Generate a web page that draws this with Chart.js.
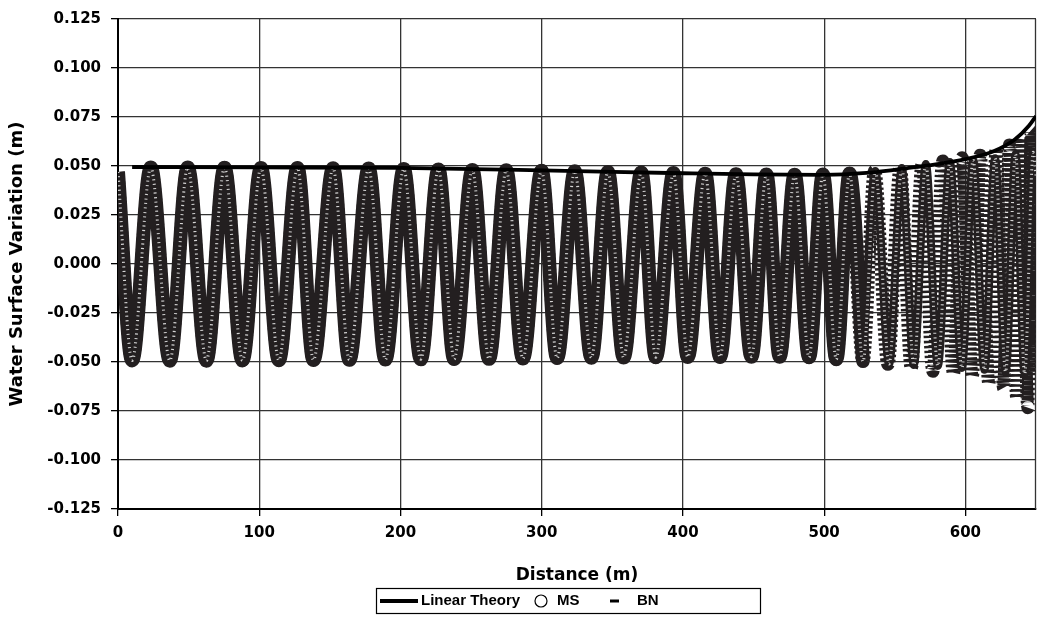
<!DOCTYPE html>
<html>
<head>
<meta charset="utf-8">
<script src="https://cdn.jsdelivr.net/npm/chart.js"></script>
<style>
  html, body { margin: 0; padding: 0; background: #fff; }
</style>
</head>
<body>
<canvas id="waveChart" width="1038" height="640"></canvas>
<script>
// crests / troughs: distance (m) and surface elevation (m)
// both models coincide up to ~527 m
const waveX = [0, 10, 23.2, 36.7, 49.4, 62.6, 75.4, 88.1, 101.2, 113.9, 127.1, 138.4, 152.3, 163.8,
  177.5, 189.3, 202.3, 214.4, 226.9, 238, 250.9, 262.7, 274.9, 286.7, 299.9, 310.9, 323.4, 335.2,
  346.9, 358, 370.5, 380.8, 393.3, 403.4, 415.7, 426.3, 437.6, 448.5, 459.1, 468.5, 479.1, 489.3,
  499.1, 508.6, 518, 527.5];
const waveY = [0.047, -0.0492, 0.0492, -0.0493, 0.0492, -0.0493, 0.0491, -0.0492, 0.049, -0.0491,
  0.049, -0.049, 0.0489, -0.0489, 0.0487, -0.0487, 0.0485, -0.0486, 0.0482, -0.0485, 0.048, -0.0484,
  0.0478, -0.0482, 0.0476, -0.048, 0.0473, -0.0478, 0.047, -0.0477, 0.0467, -0.0476, 0.0464, -0.0475,
  0.0461, -0.0474, 0.0458, -0.0473, 0.0456, -0.0473, 0.0455, -0.0476, 0.0456, -0.0486, 0.0462, -0.0498];

// shoaling part, where the two models separate
const msEndX = [536.2, 546, 555, 563.5, 572, 580.5, 589, 597.5, 605.5, 613.5, 621, 628.5, 635.5, 642, 648, 650];
const msEndY = [0.0475, -0.051, 0.049, -0.0515, 0.051, -0.052, 0.052, -0.053, 0.053, -0.054, 0.054, -0.055,
  0.056, -0.056, 0.057, 0.045];
const bnEndX = [535.7, 545.2, 553.9, 561.7, 569.4, 577, 584, 591.6, 597.7, 604.9, 610.5, 616.6, 621.8, 627,
  631.2, 636.4, 639.5, 644.2, 646.6, 650];
const bnEndY = [0.0475, -0.0512, 0.049, -0.053, 0.0509, -0.0547, 0.0525, -0.0558, 0.0542, -0.0573, 0.0555,
  -0.061, 0.0586, -0.0632, 0.0607, -0.0683, 0.064, -0.0733, 0.0683, -0.055];

// linear theory amplitude
const ltX = [10, 100, 200, 300, 400, 450, 500, 530, 560, 580, 600, 620, 635, 645, 650];
const ltY = [0.0495, 0.0493, 0.049, 0.0478, 0.0463, 0.0457, 0.0455, 0.0465, 0.049, 0.051, 0.0535, 0.0575,
  0.0635, 0.0705, 0.0755];

const xTicks = [0, 100, 200, 300, 400, 500, 600];
const yTicks = [-0.125, -0.1, -0.075, -0.05, -0.025, 0, 0.025, 0.05, 0.075, 0.1, 0.125];

const FONT = '"DejaVu Sans", "Liberation Sans", Arial, sans-serif';
const LEGEND_FONT = '"Liberation Sans", Arial, sans-serif';
const INK = '#231f20';

const pts = (xs, ys) => xs.map((x, i) => ({ x: x, y: ys[i] }));
const last = waveX.length - 1;
const msX = waveX.concat(msEndX), msY = waveY.concat(msEndY);
const bnX = waveX.concat(bnEndX), bnY = waveY.concat(bnEndY);

const lineBase = { pointRadius: 0, cubicInterpolationMode: 'monotone', fill: false, borderCapStyle: 'butt' };

const frame = {
  id: 'frame',
  beforeDatasetsDraw(chart) {
    const a = chart.chartArea, ctx = chart.ctx;
    ctx.save();
    ctx.strokeStyle = '#333';
    ctx.lineWidth = 1.3;
    ctx.beginPath();
    ctx.moveTo(a.right - 0.5, a.top);
    ctx.lineTo(a.right - 0.5, a.bottom);
    ctx.stroke();
    ctx.restore();
  }
};

const legendBox = {
  id: 'legendBox',
  afterDraw(chart) {
    const ctx = chart.ctx;
    const y = 601;
    ctx.save();
    ctx.strokeStyle = '#000';
    ctx.fillStyle = '#000';
    ctx.lineWidth = 1.2;
    ctx.strokeRect(376.5, 588.5, 384, 25);
    ctx.font = 'bold 15px ' + LEGEND_FONT;
    ctx.textBaseline = 'middle';
    ctx.lineWidth = 4;
    ctx.beginPath(); ctx.moveTo(380, y); ctx.lineTo(418, y); ctx.stroke();
    ctx.fillText('Linear Theory', 421, y);
    ctx.lineWidth = 1.2;
    ctx.beginPath(); ctx.arc(541, y, 6, 0, Math.PI * 2); ctx.stroke();
    ctx.fillText('MS', 557, y);
    ctx.lineWidth = 3;
    ctx.beginPath(); ctx.moveTo(610, y); ctx.lineTo(619, y); ctx.stroke();
    ctx.fillText('BN', 637, y);
    ctx.restore();
  }
};

new Chart(document.getElementById('waveChart').getContext('2d'), {
  type: 'line',
  data: {
    datasets: [
      Object.assign({ label: 'Linear Theory', data: pts(ltX, ltY), borderColor: '#000', borderWidth: 3.8 }, lineBase),
      // light slits inside the band of circles
      Object.assign({ label: 'MS texture', data: pts(msX, msY), borderColor: '#d4d4d4', borderWidth: 3,
        borderDash: [1.1, 3.4] }, lineBase),
      Object.assign({ label: 'MS', data: pts(waveX, waveY), borderColor: INK, borderWidth: 14 }, lineBase),
      Object.assign({ label: 'MS end', data: pts([waveX[last]].concat(msEndX), [waveY[last]].concat(msEndY)),
        borderColor: INK, borderWidth: 8 }, lineBase),
      Object.assign({ label: 'BN', data: pts(bnX, bnY), borderColor: INK, borderWidth: 13,
        borderDash: [2.5, 2.5] }, lineBase)
    ]
  },
  options: {
    responsive: false,
    animation: false,
    events: [],
    layout: { padding: { left: 0, top: 17, right: 2, bottom: 54 } },
    plugins: { legend: { display: false }, tooltip: { enabled: false } },
    scales: {
      x: {
        type: 'linear', min: 0, max: 650,
        afterFit: s => { s.height = 77; },
        afterBuildTicks: s => { s.ticks = xTicks.map(v => ({ value: v })); },
        grid: { color: '#333', lineWidth: 1.3, tickLength: 7, tickColor: '#000' },
        border: { color: '#000', width: 2 },
        ticks: { color: '#000', padding: 8, maxRotation: 0, font: { family: FONT, size: 15, weight: 'bold' } },
        title: { display: true, text: 'Distance (m)', color: '#000', padding: { top: 0, bottom: 0 },
          font: { family: FONT, size: 17, weight: 'bold' } }
      },
      y: {
        type: 'linear', min: -0.125, max: 0.125,
        afterFit: s => { s.width = 118; },
        afterBuildTicks: s => { s.ticks = yTicks.map(v => ({ value: v })); },
        grid: { color: '#333', lineWidth: 1.3, tickLength: 7, tickColor: '#000' },
        border: { color: '#000', width: 2 },
        ticks: { color: '#000', padding: 10, callback: v => v.toFixed(3),
          font: { family: FONT, size: 15, weight: 'bold' } },
        title: { display: true, text: 'Water Surface Variation (m)', color: '#000', padding: { top: 7, bottom: 0 },
          font: { family: FONT, size: 18, weight: 'bold' } }
      }
    }
  },
  plugins: [frame, legendBox]
});
</script>
</body>
</html>
